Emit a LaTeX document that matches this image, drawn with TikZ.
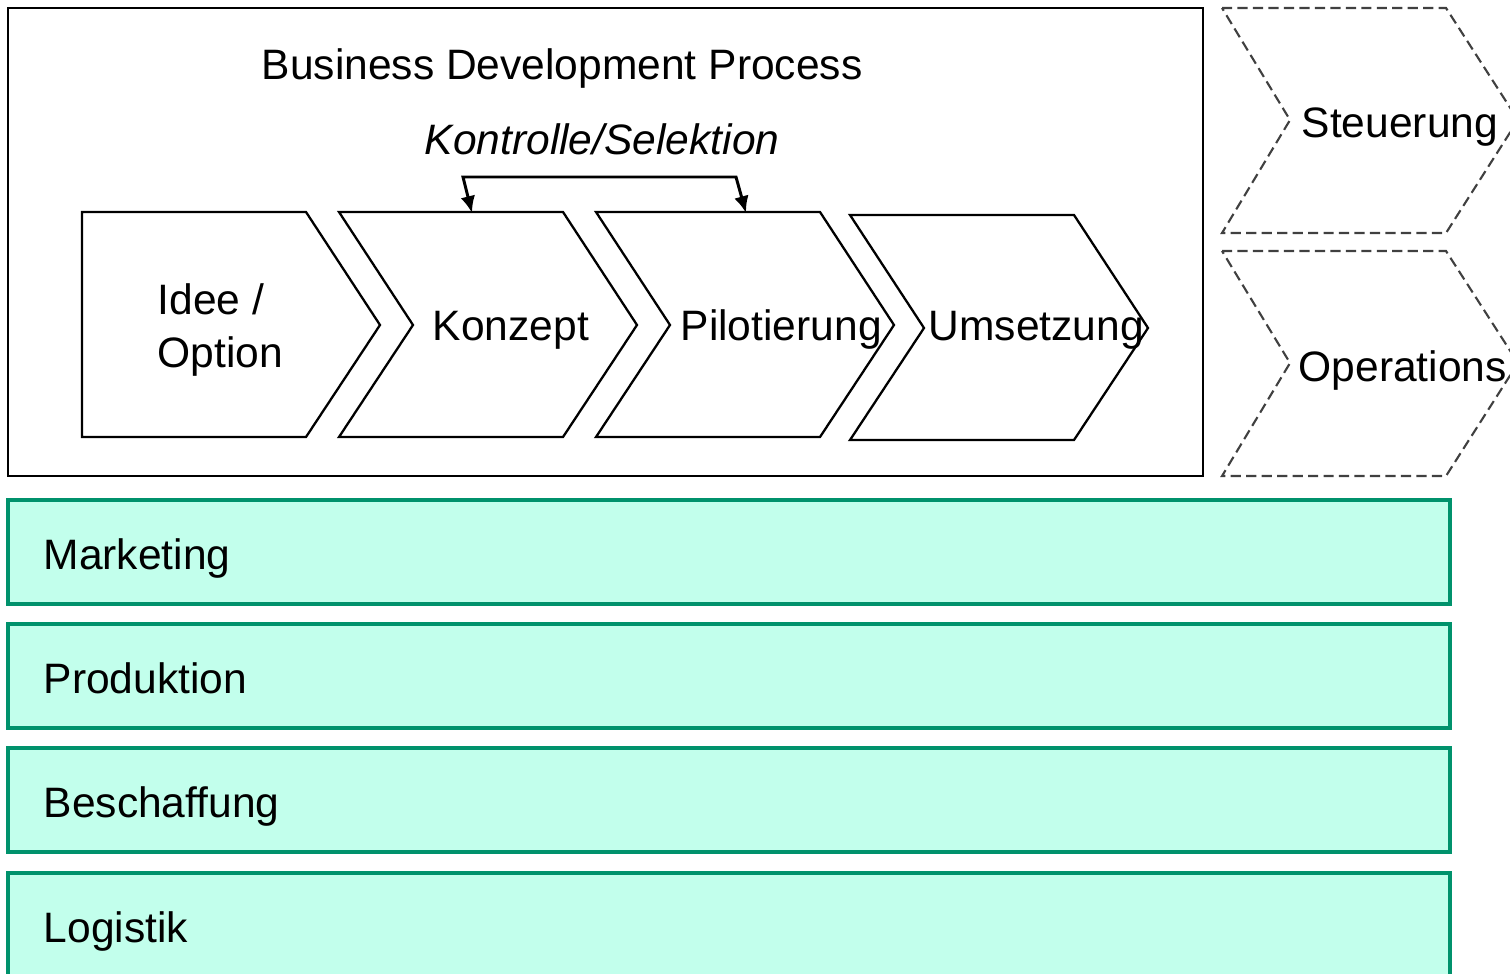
\documentclass[tikz,border=0pt]{standalone}
\usepackage{fontspec}
\setmainfont{Liberation Sans}
\usetikzlibrary{arrows.meta}
\definecolor{barline}{RGB}{0,146,108}
\definecolor{barfill}{RGB}{194,255,236}
\tikzset{>={Latex[length=4.8pt,width=4.2pt]}}
\tikzset{
  phase/.style={draw=black,line width=0.65pt,line join=miter},
  ghost/.style={draw=black!75,line width=0.6pt,dash pattern=on 2.9pt off 1.5pt},
  area/.style={draw=barline,fill=barfill,line width=1.3pt},
  lbl/.style={font=\fontsize{12.1}{14.8}\selectfont,inner sep=0pt}
}

\begin{document}
\begin{tikzpicture}[x=0.01cm,y=-0.01cm]
    \useasboundingbox (0,0) rectangle (1510,973);
    % process frame with titles
    \draw[phase] (8,8) rectangle (1203,476);
    \node[lbl,anchor=base west] (bdp) at (261,80) {Business Development Process};
    \node[lbl,anchor=base west,font=\fontsize{12.1}{14.8}\selectfont\itshape] (sel) at (424,154) {Kontrolle/Selektion};
    % phases, the first one with a flat back
    \draw[phase] (82,212) -- (306,212) -- (380,325) -- (306,437) -- (82,437) -- cycle;
    \foreach \x/\y in {339/212,596/212,850/215}
        \draw[phase] (\x,\y) -- ++(224,0) -- ++(74,113) -- ++(-74,112) -- ++(-224,0) -- ++(74,-112) -- cycle;
    \node[lbl,anchor=base west,align=left] (idee) at (157,367) {Idee /\\Option};
    \node[lbl,anchor=base] (konzept) at (511,340) {Konzept};
    \node[lbl,anchor=base west] (pilot) at (680,340) {Pilotierung};
    \node[lbl,anchor=base west] (umsetz) at (928,340) {Umsetzung};
    % feedback between Konzept and Pilotierung
    \coordinate (kon-top) at (472,213);
    \coordinate (pil-top) at (746,213);
    \coordinate (sel-a) at (463,177);
    \coordinate (sel-b) at (736,177);
    \draw[<->,line width=0.85pt] (kon-top) -- (sel-a) -- (sel-b) -- (pil-top);
    % side processes
    \foreach \y in {8,251}
        \draw[ghost] (1222,\y) -- ++(224,0) -- ++(72,112) -- ++(-72,113) -- ++(-224,0) -- ++(68,-113) -- cycle;
    \node[lbl,anchor=base west] (steuer) at (1301,138) {Steuerung};
    \node[lbl,anchor=base west] (ops) at (1298,381) {Operations};
    % functional areas
    \foreach \y/\name in {500/Marketing,624/Produktion,748/Beschaffung,873/Logistik}{
        \draw[area] (8,\y) rectangle (1450,\y+104);
        \node[lbl,anchor=base west] (\name) at (43,\y+69) {\name};
    }
\end{tikzpicture}
\end{document}
